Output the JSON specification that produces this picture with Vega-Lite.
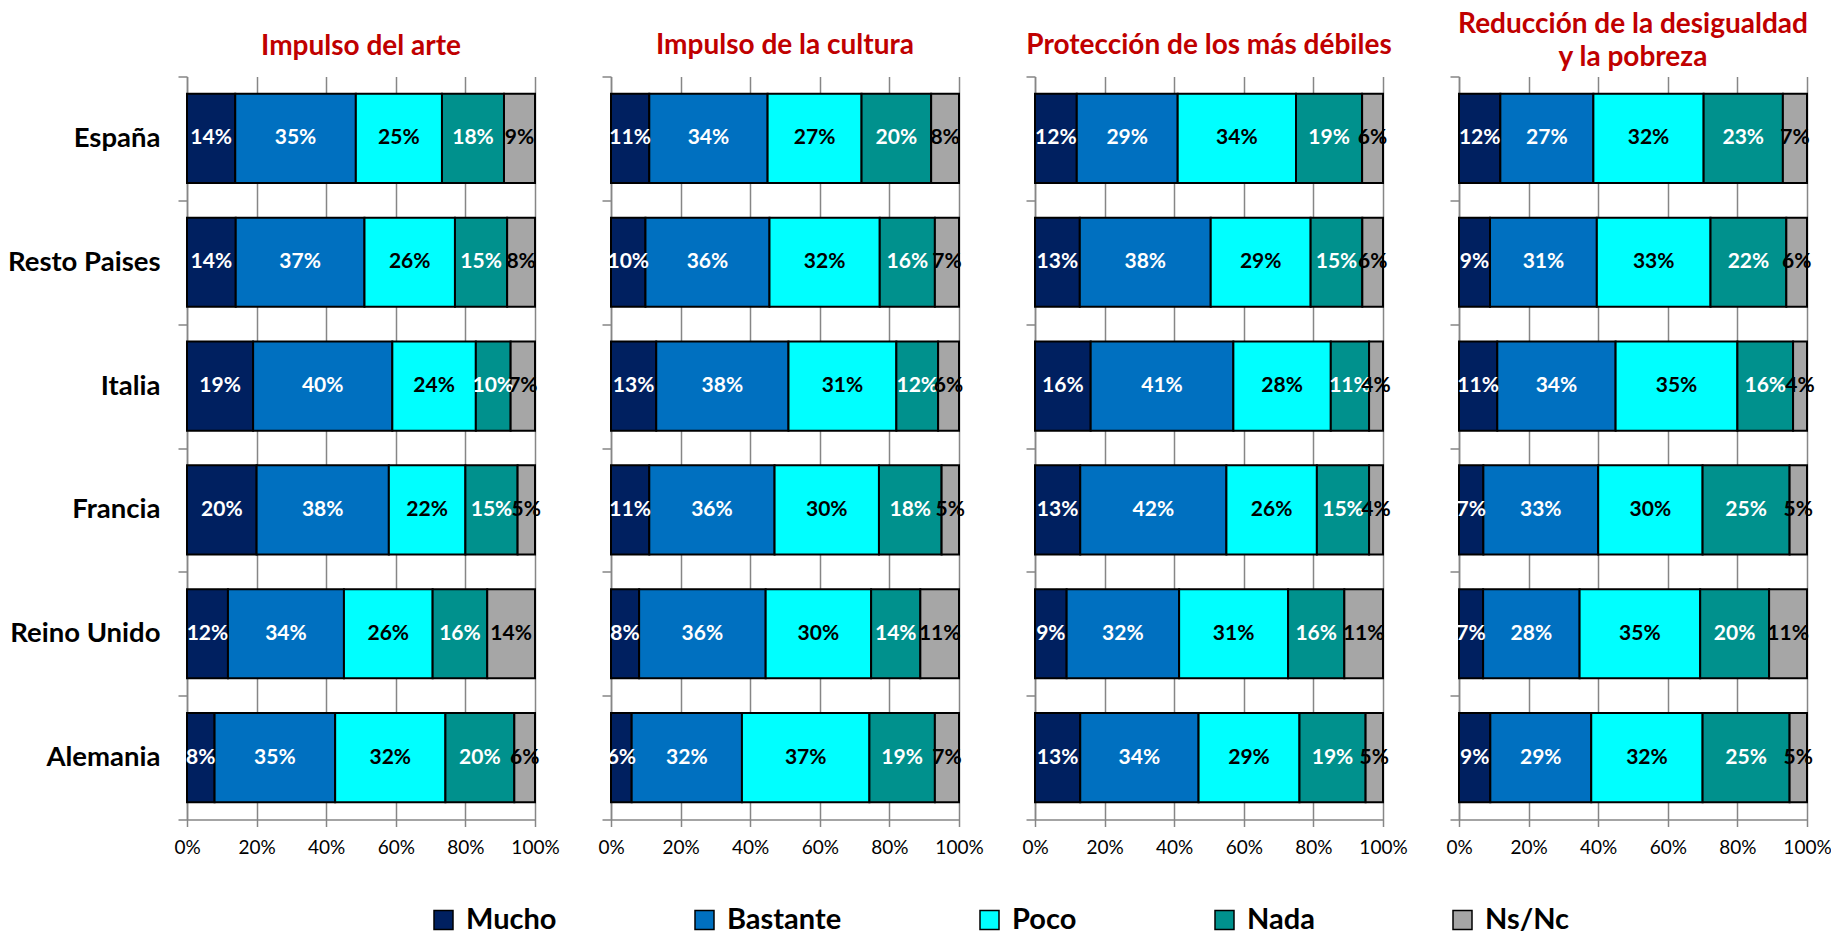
{
  "$schema": "https://vega.github.io/schema/vega-lite/v6.json",
  "background": "white",
  "padding": {"left": 7, "top": 10.5, "right": 5, "bottom": 5},
  "datasets": {
    "ord": [{"r": "Mucho", "o": 1}, {"r": "Bastante", "o": 2}, {"r": "Poco", "o": 3}, {"r": "Nada", "o": 4}, {"r": "Ns/Nc", "o": 5}]
  },
  "data": {"values": [
    {"p": "a", "c": "España", "Mucho": 0.14, "Bastante": 0.35, "Poco": 0.25, "Nada": 0.18, "Ns/Nc": 0.09},
    {"p": "a", "c": "Resto Paises", "Mucho": 0.14, "Bastante": 0.37, "Poco": 0.26, "Nada": 0.15, "Ns/Nc": 0.08},
    {"p": "a", "c": "Italia", "Mucho": 0.19, "Bastante": 0.40, "Poco": 0.24, "Nada": 0.10, "Ns/Nc": 0.07},
    {"p": "a", "c": "Francia", "Mucho": 0.20, "Bastante": 0.38, "Poco": 0.22, "Nada": 0.15, "Ns/Nc": 0.05},
    {"p": "a", "c": "Reino Unido", "Mucho": 0.12, "Bastante": 0.34, "Poco": 0.26, "Nada": 0.16, "Ns/Nc": 0.14},
    {"p": "a", "c": "Alemania", "Mucho": 0.08, "Bastante": 0.35, "Poco": 0.32, "Nada": 0.20, "Ns/Nc": 0.06},
    {"p": "b", "c": "España", "Mucho": 0.11, "Bastante": 0.34, "Poco": 0.27, "Nada": 0.20, "Ns/Nc": 0.08},
    {"p": "b", "c": "Resto Paises", "Mucho": 0.10, "Bastante": 0.36, "Poco": 0.32, "Nada": 0.16, "Ns/Nc": 0.07},
    {"p": "b", "c": "Italia", "Mucho": 0.13, "Bastante": 0.38, "Poco": 0.31, "Nada": 0.12, "Ns/Nc": 0.06},
    {"p": "b", "c": "Francia", "Mucho": 0.11, "Bastante": 0.36, "Poco": 0.30, "Nada": 0.18, "Ns/Nc": 0.05},
    {"p": "b", "c": "Reino Unido", "Mucho": 0.08, "Bastante": 0.36, "Poco": 0.30, "Nada": 0.14, "Ns/Nc": 0.11},
    {"p": "b", "c": "Alemania", "Mucho": 0.06, "Bastante": 0.32, "Poco": 0.37, "Nada": 0.19, "Ns/Nc": 0.07},
    {"p": "c", "c": "España", "Mucho": 0.12, "Bastante": 0.29, "Poco": 0.34, "Nada": 0.19, "Ns/Nc": 0.06},
    {"p": "c", "c": "Resto Paises", "Mucho": 0.13, "Bastante": 0.38, "Poco": 0.29, "Nada": 0.15, "Ns/Nc": 0.06},
    {"p": "c", "c": "Italia", "Mucho": 0.16, "Bastante": 0.41, "Poco": 0.28, "Nada": 0.11, "Ns/Nc": 0.04},
    {"p": "c", "c": "Francia", "Mucho": 0.13, "Bastante": 0.42, "Poco": 0.26, "Nada": 0.15, "Ns/Nc": 0.04},
    {"p": "c", "c": "Reino Unido", "Mucho": 0.09, "Bastante": 0.32, "Poco": 0.31, "Nada": 0.16, "Ns/Nc": 0.11},
    {"p": "c", "c": "Alemania", "Mucho": 0.13, "Bastante": 0.34, "Poco": 0.29, "Nada": 0.19, "Ns/Nc": 0.05},
    {"p": "d", "c": "España", "Mucho": 0.12, "Bastante": 0.27, "Poco": 0.32, "Nada": 0.23, "Ns/Nc": 0.07},
    {"p": "d", "c": "Resto Paises", "Mucho": 0.09, "Bastante": 0.31, "Poco": 0.33, "Nada": 0.22, "Ns/Nc": 0.06},
    {"p": "d", "c": "Italia", "Mucho": 0.11, "Bastante": 0.34, "Poco": 0.35, "Nada": 0.16, "Ns/Nc": 0.04},
    {"p": "d", "c": "Francia", "Mucho": 0.07, "Bastante": 0.33, "Poco": 0.30, "Nada": 0.25, "Ns/Nc": 0.05},
    {"p": "d", "c": "Reino Unido", "Mucho": 0.07, "Bastante": 0.28, "Poco": 0.35, "Nada": 0.20, "Ns/Nc": 0.11},
    {"p": "d", "c": "Alemania", "Mucho": 0.09, "Bastante": 0.29, "Poco": 0.32, "Nada": 0.25, "Ns/Nc": 0.05}
  ]},
  "transform": [
    {"fold": ["Mucho", "Bastante", "Poco", "Nada", "Ns/Nc"], "as": ["r", "v"]},
    {"lookup": "r", "from": {"data": {"name": "ord"}, "key": "r", "fields": ["o"]}}
  ],
  "spacing": 76,
  "bounds": "flush",
  "hconcat": [
    {
      "width": 348, "height": 743,
      "title": {"text": "Impulso del arte", "offset": 2},
      "transform": [{"filter": "datum.p == 'a'"}],
      "encoding": {"y": {"field": "c", "type": "nominal", "sort": ["España", "Resto Paises", "Italia", "Francia", "Reino Unido", "Alemania"], "scale": {"paddingInner": 0, "paddingOuter": 0}, "axis": {"tickBand": "extent"}}},
      "layer": [
        {"mark": {"type": "bar", "stroke": "black", "strokeWidth": 2, "height": {"band": 0.72}},
         "encoding": {
           "x": {"field": "v", "type": "quantitative", "stack": "normalize", "axis": {"values": [0, 0.2, 0.4, 0.6, 0.8, 1], "format": ".0%"}},
           "color": {"field": "r", "type": "nominal", "scale": {"domain": ["Mucho", "Bastante", "Poco", "Nada", "Ns/Nc"], "range": ["#002060", "#0070C0", "#00FFFF", "#00918D", "#A6A6A6"]}},
           "order": {"field": "o", "type": "quantitative"}}},
        {"mark": {"type": "text", "font": "Lato", "fontSize": 21, "fontWeight": "bold"},
         "encoding": {
           "x": {"field": "v", "type": "quantitative", "stack": "normalize", "bandPosition": 0.5},
           "detail": {"field": "r", "type": "nominal"},
           "text": {"field": "v", "type": "quantitative", "format": ".0%"},
           "color": {"condition": {"test": "datum.r == 'Poco' || datum.r == 'Ns/Nc'", "value": "black"}, "value": "white"},
           "order": {"field": "o", "type": "quantitative"}}}
      ]
    },
    {
      "width": 348, "height": 743,
      "title": {"text": "Impulso de la cultura", "offset": 16},
      "transform": [{"filter": "datum.p == 'b'"}],
      "encoding": {"y": {"field": "c", "type": "nominal", "sort": ["España", "Resto Paises", "Italia", "Francia", "Reino Unido", "Alemania"], "scale": {"paddingInner": 0, "paddingOuter": 0}, "axis": {"tickBand": "extent", "labels": false}}},
      "layer": [
        {"mark": {"type": "bar", "stroke": "black", "strokeWidth": 2, "height": {"band": 0.72}},
         "encoding": {
           "x": {"field": "v", "type": "quantitative", "stack": "normalize", "axis": {"values": [0, 0.2, 0.4, 0.6, 0.8, 1], "format": ".0%"}},
           "color": {"field": "r", "type": "nominal", "scale": {"domain": ["Mucho", "Bastante", "Poco", "Nada", "Ns/Nc"], "range": ["#002060", "#0070C0", "#00FFFF", "#00918D", "#A6A6A6"]}},
           "order": {"field": "o", "type": "quantitative"}}},
        {"mark": {"type": "text", "font": "Lato", "fontSize": 21, "fontWeight": "bold"},
         "encoding": {
           "x": {"field": "v", "type": "quantitative", "stack": "normalize", "bandPosition": 0.5},
           "detail": {"field": "r", "type": "nominal"},
           "text": {"field": "v", "type": "quantitative", "format": ".0%"},
           "color": {"condition": {"test": "datum.r == 'Poco' || datum.r == 'Ns/Nc'", "value": "black"}, "value": "white"},
           "order": {"field": "o", "type": "quantitative"}}}
      ]
    },
    {
      "width": 348, "height": 743,
      "title": {"text": "Protección de los más débiles", "offset": 16},
      "transform": [{"filter": "datum.p == 'c'"}],
      "encoding": {"y": {"field": "c", "type": "nominal", "sort": ["España", "Resto Paises", "Italia", "Francia", "Reino Unido", "Alemania"], "scale": {"paddingInner": 0, "paddingOuter": 0}, "axis": {"tickBand": "extent", "labels": false}}},
      "layer": [
        {"mark": {"type": "bar", "stroke": "black", "strokeWidth": 2, "height": {"band": 0.72}},
         "encoding": {
           "x": {"field": "v", "type": "quantitative", "stack": "normalize", "axis": {"values": [0, 0.2, 0.4, 0.6, 0.8, 1], "format": ".0%"}},
           "color": {"field": "r", "type": "nominal", "scale": {"domain": ["Mucho", "Bastante", "Poco", "Nada", "Ns/Nc"], "range": ["#002060", "#0070C0", "#00FFFF", "#00918D", "#A6A6A6"]}},
           "order": {"field": "o", "type": "quantitative"}}},
        {"mark": {"type": "text", "font": "Lato", "fontSize": 21, "fontWeight": "bold"},
         "encoding": {
           "x": {"field": "v", "type": "quantitative", "stack": "normalize", "bandPosition": 0.5},
           "detail": {"field": "r", "type": "nominal"},
           "text": {"field": "v", "type": "quantitative", "format": ".0%"},
           "color": {"condition": {"test": "datum.r == 'Poco' || datum.r == 'Ns/Nc'", "value": "black"}, "value": "white"},
           "order": {"field": "o", "type": "quantitative"}}}
      ]
    },
    {
      "width": 348, "height": 743,
      "title": {"text": ["Reducción de la desigualdad", "y la pobreza"], "offset": 4},
      "transform": [{"filter": "datum.p == 'd'"}],
      "encoding": {"y": {"field": "c", "type": "nominal", "sort": ["España", "Resto Paises", "Italia", "Francia", "Reino Unido", "Alemania"], "scale": {"paddingInner": 0, "paddingOuter": 0}, "axis": {"tickBand": "extent", "labels": false}}},
      "layer": [
        {"mark": {"type": "bar", "stroke": "black", "strokeWidth": 2, "height": {"band": 0.72}},
         "encoding": {
           "x": {"field": "v", "type": "quantitative", "stack": "normalize", "axis": {"values": [0, 0.2, 0.4, 0.6, 0.8, 1], "format": ".0%"}},
           "color": {"field": "r", "type": "nominal", "scale": {"domain": ["Mucho", "Bastante", "Poco", "Nada", "Ns/Nc"], "range": ["#002060", "#0070C0", "#00FFFF", "#00918D", "#A6A6A6"]}},
           "order": {"field": "o", "type": "quantitative"}}},
        {"mark": {"type": "text", "font": "Lato", "fontSize": 21, "fontWeight": "bold"},
         "encoding": {
           "x": {"field": "v", "type": "quantitative", "stack": "normalize", "bandPosition": 0.5},
           "detail": {"field": "r", "type": "nominal"},
           "text": {"field": "v", "type": "quantitative", "format": ".0%"},
           "color": {"condition": {"test": "datum.r == 'Poco' || datum.r == 'Ns/Nc'", "value": "black"}, "value": "white"},
           "order": {"field": "o", "type": "quantitative"}}}
      ]
    }
  ],
  "config": {
    "view": {"stroke": null},
    "font": "Lato",
    "title": {"color": "#C00000", "font": "Lato", "fontSize": 28, "fontWeight": "bold", "frame": "group", "anchor": "middle", "baseline": "bottom", "lineHeight": 33},
    "axisY": {"title": null, "labelFont": "Lato", "labelFontSize": 27.5, "labelFontWeight": "bold", "labelColor": "black", "domainColor": "#868686", "domainWidth": 1.5, "tickColor": "#868686", "tickWidth": 1.5, "tickSize": 9, "labelPadding": 18, "labelLimit": 0, "grid": false},
    "axisX": {"title": null, "labelFont": "Lato", "labelFontSize": 19, "labelColor": "black", "domainColor": "#868686", "domainWidth": 1.5, "tickColor": "#868686", "tickWidth": 1.5, "tickSize": 7, "grid": true, "gridColor": "#868686", "gridWidth": 1.5, "labelPadding": 12, "labelFlush": false},
    "legend": {"orient": "none", "legendX": 242, "legendY": 829, "direction": "horizontal", "columns": 5, "gridAlign": "none", "columnPadding": 133, "title": null, "symbolType": "square", "symbolSize": 361, "symbolStrokeColor": "black", "symbolStrokeWidth": 1.5, "symbolOpacity": 1, "labelFont": "Lato", "labelFontSize": 29, "labelFontWeight": "bold", "labelColor": "black", "labelOffset": 8, "labelLimit": 0}
  }
}
